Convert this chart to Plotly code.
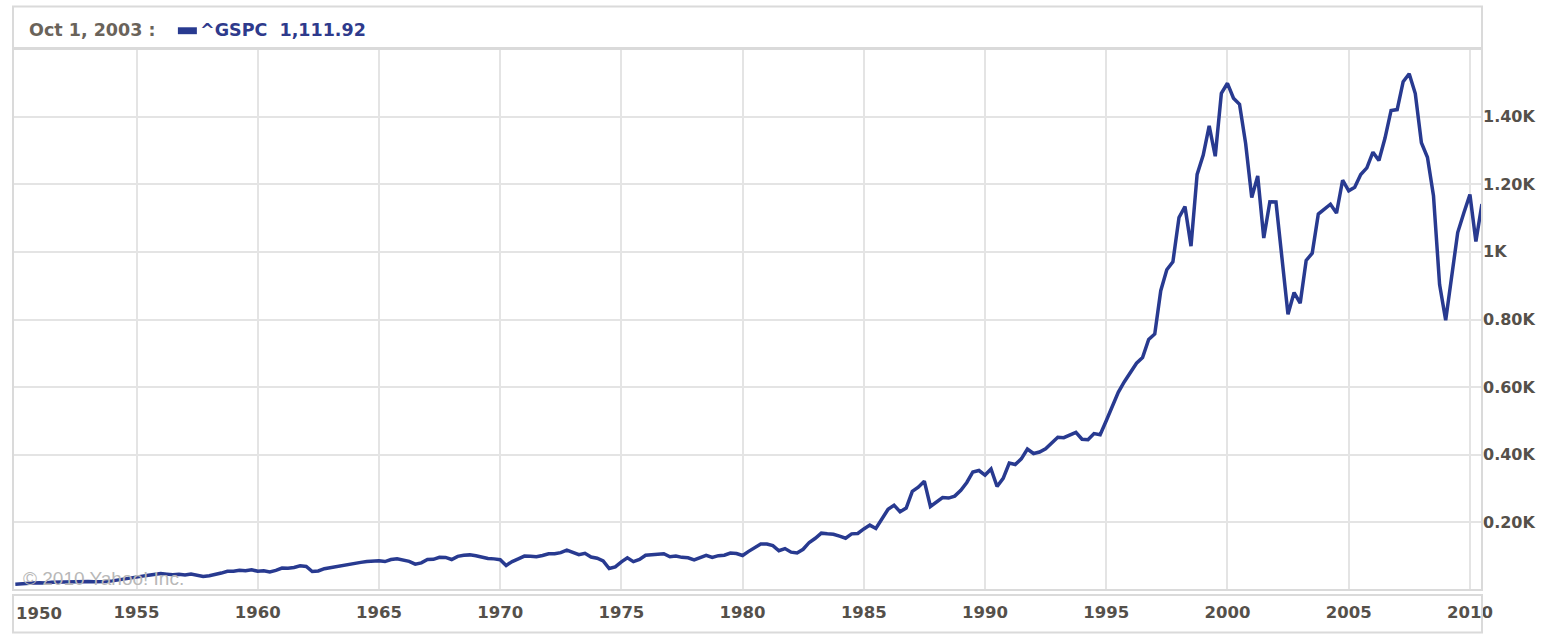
"""S&P 500 (^GSPC) quarterly closes 1950-2010, Yahoo style chart."""

import pandas as pd
import plotly.graph_objects as go

# quarterly close values, one row per year (Q1..Q4), dated at quarter start
first_year = 1950
closes = [
    17.29, 17.69, 19.45, 20.41,
    21.48, 20.96, 23.26, 23.77,
    24.37, 24.96, 24.54, 26.57,
    25.29, 24.14, 23.35, 24.81,
    26.94, 29.21, 32.31, 35.98,
    36.58, 41.03, 43.67, 45.48,
    48.48, 46.97, 45.35, 46.67,
    44.11, 47.37, 42.42, 39.99,
    42.10, 45.24, 50.06, 55.21,
    55.44, 58.47, 56.88, 59.89,
    55.34, 56.92, 53.52, 58.11,
    65.06, 64.64, 66.73, 71.55,
    69.55, 54.75, 56.27, 63.10,
    66.57, 69.37, 71.70, 75.02,
    78.98, 81.69, 84.18, 84.75,
    86.16, 84.12, 89.96, 92.43,
    89.23, 84.74, 76.56, 80.33,
    90.20, 90.64, 96.71, 96.47,
    90.20, 99.58, 102.67, 103.86,
    101.51, 97.71, 93.12, 92.06,
    89.63, 72.72, 84.21, 92.15,
    100.31, 99.70, 98.34, 102.09,
    107.20, 107.14, 110.55, 118.05,
    111.52, 104.26, 108.43, 97.55,
    93.98, 86.00, 63.54, 68.56,
    83.36, 95.19, 83.87, 90.19,
    102.77, 104.28, 105.24, 107.46,
    98.42, 100.48, 96.53, 95.10,
    89.21, 95.53, 102.54, 96.11,
    101.59, 102.91, 109.32, 107.94,
    102.09, 114.24, 125.46, 135.76,
    136.00, 131.21, 116.18, 122.55,
    111.96, 109.61, 120.42, 140.64,
    152.96, 168.11, 166.07, 164.93,
    159.18, 153.18, 166.10, 167.24,
    180.66, 191.85, 182.08, 211.28,
    238.90, 250.84, 231.32, 242.17,
    291.70, 304.00, 321.83, 247.08,
    258.89, 273.50, 271.91, 277.72,
    294.87, 317.98, 349.15, 353.40,
    339.94, 358.02, 306.05, 330.22,
    375.22, 371.16, 387.86, 417.09,
    403.69, 408.14, 417.80, 435.71,
    451.67, 450.53, 458.93, 466.45,
    445.77, 444.27, 462.69, 459.27,
    500.71, 544.75, 584.41, 615.93,
    645.50, 670.63, 687.31, 740.74,
    757.12, 885.14, 947.28, 970.43,
    1101.75, 1133.84, 1017.01, 1229.23,
    1286.37, 1372.71, 1282.71, 1469.25,
    1498.58, 1454.60, 1436.51, 1320.28,
    1160.33, 1224.42, 1040.94, 1148.08,
    1147.39, 989.82, 815.28, 879.82,
    848.18, 974.50, 995.97, 1111.92,
    1126.21, 1140.84, 1114.58, 1211.92,
    1180.59, 1191.33, 1228.81, 1248.29,
    1294.83, 1270.20, 1335.85, 1418.30,
    1420.86, 1503.35, 1526.75, 1468.36,
    1322.70, 1280.00, 1166.36, 903.25,
    797.87, 919.32, 1057.08, 1115.10,
    1169.43, 1030.71, 1141.20,
]
dates = pd.date_range(f"{first_year}-01-01", periods=len(closes), freq="QS")

x_years = [1955, 1960, 1965, 1970, 1975, 1980, 1985, 1990, 1995, 2000, 2005, 2010]
y_ticks = [200, 400, 600, 800, 1000, 1200, 1400]
y_text = ["0.20K", "0.40K", "0.60K", "0.80K", "1K", "1.20K", "1.40K"]

W, H = 1547, 634
L, R, T, B = 13, 64, 49, 37
PW, PH = W - L - R, H - T - B

LINE_BLUE = "#283a90"
GRID = "#e4e4e4"
FRAME = "#dadada"
LABEL = "#55504a"
FONT = "DejaVu Sans"


def px(xp):
    return (xp - L) / PW


def py(yp):
    return 1 - (yp - T) / PH


fig = go.Figure()
fig.add_trace(go.Scatter(x=dates, y=closes, mode="lines",
                         line=dict(color=LINE_BLUE, width=3.5),
                         hovertemplate="%{x|%b %-d, %Y}: %{y:,.2f}<extra></extra>"))

# frames: header strip, plot, x label strip
fig.add_shape(type="rect", xref="paper", yref="paper",
              x0=0, x1=1, y0=py(48), y1=py(6), line=dict(color=FRAME, width=2))
fig.add_shape(type="rect", xref="paper", yref="paper",
              x0=0, x1=1, y0=0, y1=1, line=dict(color=FRAME, width=2))
fig.add_shape(type="rect", xref="paper", yref="paper",
              x0=0, x1=1, y0=py(640), y1=py(602), line=dict(color=FRAME, width=2))

# header
fig.add_annotation(text="<b>Oct 1, 2003 :</b>", xref="paper", yref="paper",
                   x=px(27), y=py(30), xanchor="left", yanchor="middle", showarrow=False,
                   font=dict(family=FONT, size=17.5, color="#6a635a"))
fig.add_shape(type="rect", xref="paper", yref="paper",
              x0=px(178), x1=px(197), y0=py(34), y1=py(27),
              fillcolor=LINE_BLUE, line=dict(width=0))
fig.add_annotation(text="<b>^GSPC  1,111.92</b>", xref="paper", yref="paper",
                   x=px(198), y=py(30), xanchor="left", yanchor="middle", showarrow=False,
                   font=dict(family=FONT, size=17.5, color="#2e3a8c"))

# 1950 label sits on the left edge, so it is left aligned
fig.add_annotation(text="<b>1950</b>", xref="paper", yref="paper",
                   x=px(14), y=py(621), xanchor="left", yanchor="middle", showarrow=False,
                   font=dict(family=FONT, size=16.5, color=LABEL))

fig.add_annotation(text="© 2010 Yahoo! Inc.", xref="paper", yref="paper",
                   x=px(21), y=py(585), xanchor="left", yanchor="middle", showarrow=False,
                   font=dict(family="Liberation Sans", size=19, color="#b8b8b8"))

fig.update_xaxes(type="date", range=["1949-11-27", "2010-07-02"],
                 tickvals=[f"{y}-01-01" for y in x_years],
                 ticktext=[f"<b>{y}</b>" for y in x_years],
                 showgrid=True, gridcolor=GRID, gridwidth=2,
                 zeroline=False, showline=False, ticks="", ticklabelstandoff=10,
                 tickfont=dict(family=FONT, size=16.5, color=LABEL))
fig.update_yaxes(range=[0, 1600], side="right",
                 tickvals=y_ticks, ticktext=[f"<b>{t}</b>" for t in y_text],
                 showgrid=True, gridcolor=GRID, gridwidth=2,
                 zeroline=False, showline=False, ticks="",
                 tickfont=dict(family=FONT, size=16, color=LABEL))

fig.update_layout(width=W, height=H, showlegend=False,
                  margin=dict(l=L, r=R, t=T, b=B),
                  plot_bgcolor="white", paper_bgcolor="white")

fig.write_html("out.html", config={"displayModeBar": False},
               post_script="document.body.style.margin='0';")
